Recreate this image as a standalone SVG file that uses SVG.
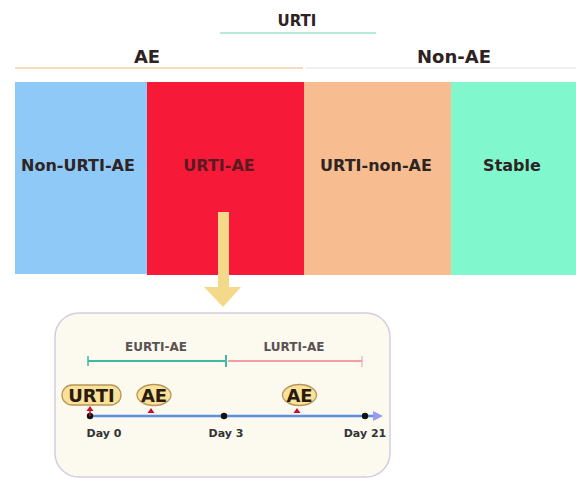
<svg xmlns="http://www.w3.org/2000/svg" width="576" height="478" viewBox="0 0 576 478">
  <defs>
    <style>
      text { font-family: "DejaVu Sans", "Liberation Sans", sans-serif; font-weight: bold; text-anchor: middle; }
      .cat { font-size: 16px; fill: #2e2424; }
      .hdr { font-size: 18px; fill: #2e2222; }
      .sub { font-size: 12px; fill: #5a5252; }
      .day { font-size: 11px; fill: #333; }
      .tag { font-size: 18px; fill: #2a1a10; }
      .bubble { fill: #f8e29a; stroke: #b8955a; stroke-width: 1.3; }
      .pin { fill: #c8102e; }
    </style>
    <marker id="tipBlue" viewBox="0 0 10 10" refX="2" refY="5" markerWidth="4" markerHeight="4" orient="auto">
      <path d="M0,0 L10,5 L0,10 z" fill="#9a9cf0"/>
    </marker>
  </defs>

  <rect width="576" height="478" fill="#ffffff"/>

  <!-- headers -->
  <g id="urti-header">
    <text x="297" y="26" style="font-size:15px;fill:#2e2222">URTI</text>
    <line x1="220" y1="33" x2="376" y2="33" stroke="#9fe3cf" stroke-width="1.5"/>
  </g>
  <g id="ae-header">
    <text class="hdr" x="147" y="63">AE</text>
    <line x1="15" y1="68" x2="303" y2="68" stroke="#f3dcc0" stroke-width="2"/>
  </g>
  <g id="nonae-header">
    <text class="hdr" x="454" y="63">Non-AE</text>
    <line x1="306" y1="68" x2="576" y2="68" stroke="#eef0ef" stroke-width="2"/>
  </g>

  <!-- category blocks -->
  <g id="non-urti-ae">
    <rect x="15" y="82" width="132" height="192" fill="#8fc9f7"/>
    <text class="cat" x="78" y="171">Non-URTI-AE</text>
  </g>
  <g id="urti-ae">
    <rect x="147" y="82" width="157" height="193" fill="#f71a38"/>
    <text class="cat" x="219" y="171" style="fill:#5a1a20">URTI-AE</text>
  </g>
  <g id="urti-non-ae">
    <rect x="304" y="82" width="147" height="193" fill="#f7bc8f"/>
    <text class="cat" x="376" y="171">URTI-non-AE</text>
  </g>
  <g id="stable">
    <rect x="451" y="82" width="125" height="193" fill="#80f7cd"/>
    <text class="cat" x="512" y="171">Stable</text>
  </g>

  <!-- connectors -->
  <g id="connectors">
    <path d="M218,212 H229 V287 H241 L223,307 L204,287 H218 Z" fill="#f5d98a"/>
  </g>

  <!-- timeline panel -->
  <g id="timeline-panel">
    <rect x="55" y="313" width="335" height="164" rx="24" fill="#fcf9ef" stroke="#d3cde2" stroke-width="1.5"/>

    <g id="eurti-ae">
      <text class="sub" x="156" y="351">EURTI-AE</text>
      <line x1="88" y1="361" x2="226" y2="361" stroke="#3fb8a5" stroke-width="2"/>
      <line x1="88" y1="356" x2="88" y2="366" stroke="#3fb8a5" stroke-width="1.5"/>
      <line x1="226" y1="355" x2="226" y2="367" stroke="#3fb8a5" stroke-width="2"/>
    </g>
    <g id="lurti-ae">
      <text class="sub" x="294" y="351">LURTI-AE</text>
      <line x1="228" y1="361" x2="362" y2="361" stroke="#f07e8c" stroke-width="1.5"/>
      <line x1="362" y1="356" x2="362" y2="367" stroke="#e8a0a8" stroke-width="1"/>
    </g>

    <g id="axis">
      <line x1="90" y1="416" x2="375" y2="416" stroke="#5b8fe0" stroke-width="2.5" marker-end="url(#tipBlue)"/>
      <circle cx="90" cy="416" r="3.2" fill="#111"/>
      <circle cx="224" cy="416" r="3.2" fill="#111"/>
      <circle cx="365" cy="416" r="3.2" fill="#111"/>
      <text class="day" x="104" y="437">Day 0</text>
      <text class="day" x="226" y="437">Day 3</text>
      <text class="day" x="365" y="437">Day 21</text>
    </g>

    <g id="urti-event">
      <rect x="62" y="385" width="59" height="20" rx="10" class="bubble"/>
      <text class="tag" x="91.5" y="401.5">URTI</text>
      <line x1="90" y1="410" x2="90" y2="416" stroke="#c8102e" stroke-width="1.5"/>
      <path d="M86.5,411 L90,406 L93.5,411 Z" class="pin"/>
    </g>
    <g id="ae-event-1">
      <ellipse cx="154" cy="395" rx="17" ry="10.5" class="bubble"/>
      <text class="tag" x="154" y="401.5">AE</text>
      <path d="M147.5,413 L151,408 L154.5,413 Z" class="pin"/>
    </g>
    <g id="ae-event-2">
      <ellipse cx="299.5" cy="395" rx="17" ry="10.5" class="bubble"/>
      <text class="tag" x="299.5" y="401.5">AE</text>
      <path d="M293.5,413 L297,408 L300.5,413 Z" class="pin"/>
    </g>
  </g>
</svg>
